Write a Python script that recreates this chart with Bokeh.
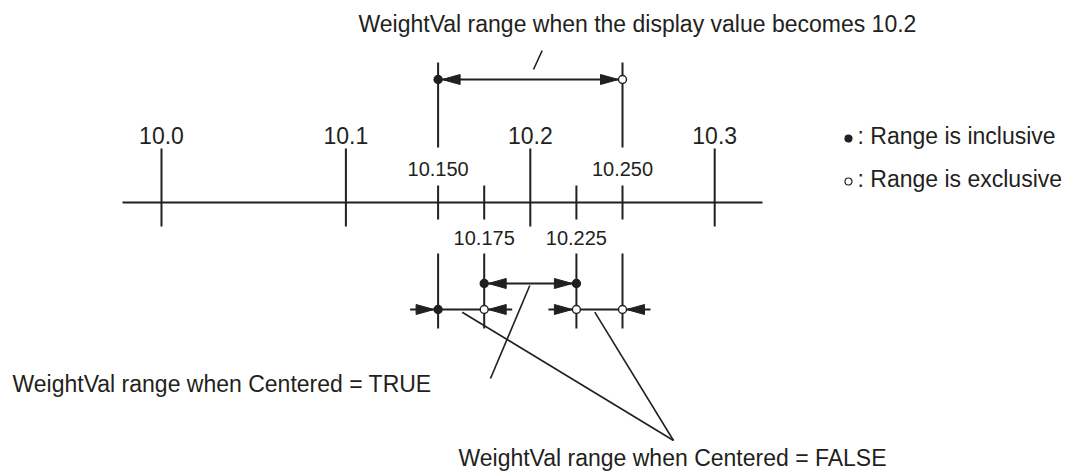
from bokeh.plotting import figure
from bokeh.models import Range1d
from bokeh.embed import file_html
from bokeh.resources import INLINE
from bokeh.core.properties import value

# ---------------- data ----------------
MAJOR_TICKS = [10.0, 10.1, 10.2, 10.3]
MAJOR_LABELS = ["10.0", "10.1", "10.2", "10.3"]
UPPER_MINOR = [10.15, 10.25]
UPPER_MINOR_LABELS = ["10.150", "10.250"]
LOWER_MINOR = [10.175, 10.225]
LOWER_MINOR_LABELS = ["10.175", "10.225"]

DISPLAY_RANGE = [10.15, 10.25]
DISPLAY_CLOSED = [True, False]
CENTERED_RANGE = [10.175, 10.225]
CENTERED_CLOSED = [True, True]
FALSE_STARTS = [10.15, 10.225]
FALSE_ENDS = [10.175, 10.25]
FALSE_START_CLOSED = [True, False]
FALSE_END_CLOSED = [False, False]

TITLE = "WeightVal range when the display value becomes 10.2"
TRUE_TEXT = "WeightVal range when Centered = TRUE"
FALSE_TEXT = "WeightVal range when Centered = FALSE"
LEGEND_TEXTS = [": Range is inclusive", ": Range is exclusive"]
LEGEND_CLOSED = [True, False]

# ---------------- layout ----------------
W, H = 1078, 473
PX = 1844.0                     # pixels per unit of WeightVal
X0 = 10.0 - 161 / PX            # value at left edge of canvas
X1 = X0 + W / PX
C = "#231f20"
FONT = value("Liberation Sans")
LW = 2


def vx(px):
    return X0 + px / PX


def ty(baseline, size):
    # compensate the renderer's baseline placement
    return baseline - 0.39 * size


p = figure(width=W, height=H, x_range=Range1d(X0, X1), y_range=Range1d(H, 0),
           output_backend="svg", toolbar_location=None, title=None,
           x_axis_location=None, y_axis_location=None, min_border=0)
p.outline_line_color = None
p.grid.visible = False
p.background_fill_color = "white"

# rows (pixel rows, top = 0)
Y_TITLE = 32
Y_TOP_ARROW = 79
Y_TOP_LINE = (62, 147)
Y_MAJOR_LAB = 143.5
Y_MAJOR_TICK = (148, 226)
Y_MINOR_UP_LAB = 176
Y_MINOR_TICK = (185, 219)
Y_AXIS = 202
Y_MINOR_DN_LAB = 245
Y_LOWER_LINE = (253, 328)
Y_CENTER = 283
Y_FALSE = 309

HEAD_L = 18
HEAD_W = 5
DOT = 8


def head(tip, y, direction):
    bx = tip - direction * HEAD_L / PX
    return [tip, bx, bx], [y, y - HEAD_W, y + HEAD_W]


heads_x, heads_y = [], []
dots_x, dots_y, dots_fill = [], [], []

# axis
p.segment(x0=[vx(122)], y0=[Y_AXIS], x1=[vx(762)], y1=[Y_AXIS], line_color=C, line_width=LW)
p.segment(x0=MAJOR_TICKS, x1=MAJOR_TICKS, y0=[Y_MAJOR_TICK[0]] * 4, y1=[Y_MAJOR_TICK[1]] * 4,
          line_color=C, line_width=LW)
minors = UPPER_MINOR + LOWER_MINOR
p.segment(x0=minors, x1=minors, y0=[Y_MINOR_TICK[0]] * 4, y1=[Y_MINOR_TICK[1]] * 4,
          line_color=C, line_width=LW)

# labels
p.text(x=MAJOR_TICKS, y=[ty(Y_MAJOR_LAB, 23)] * 4, text=MAJOR_LABELS, text_font=FONT,
       text_font_size="23px", text_align="center", text_baseline="alphabetic", text_color=C)
p.text(x=UPPER_MINOR, y=[ty(Y_MINOR_UP_LAB, 20)] * 2, text=UPPER_MINOR_LABELS, text_font=FONT,
       text_font_size="20px", text_align="center", text_baseline="alphabetic", text_color=C)
p.text(x=LOWER_MINOR, y=[ty(Y_MINOR_DN_LAB, 20)] * 2, text=LOWER_MINOR_LABELS, text_font=FONT,
       text_font_size="20px", text_align="center", text_baseline="alphabetic", text_color=C)

# top display range bracket
p.segment(x0=DISPLAY_RANGE, x1=DISPLAY_RANGE, y0=[Y_TOP_LINE[0]] * 2, y1=[Y_TOP_LINE[1]] * 2,
          line_color=C, line_width=LW)
p.segment(x0=[DISPLAY_RANGE[0]], x1=[DISPLAY_RANGE[1]], y0=[Y_TOP_ARROW], y1=[Y_TOP_ARROW],
          line_color=C, line_width=LW)
for v, d in ((DISPLAY_RANGE[0] + 4 / PX, -1), (DISPLAY_RANGE[1] - 4 / PX, 1)):
    hx, hy = head(v, Y_TOP_ARROW, d)
    heads_x.append(hx); heads_y.append(hy)
for v, c in zip(DISPLAY_RANGE, DISPLAY_CLOSED):
    dots_x.append(v); dots_y.append(Y_TOP_ARROW); dots_fill.append(C if c else "white")

# lower vertical lines
lowv = [DISPLAY_RANGE[0], CENTERED_RANGE[0], CENTERED_RANGE[1], DISPLAY_RANGE[1]]
p.segment(x0=lowv, x1=lowv, y0=[Y_LOWER_LINE[0]] * 4, y1=[Y_LOWER_LINE[1]] * 4,
          line_color=C, line_width=LW)

# centered range arrow
p.segment(x0=[CENTERED_RANGE[0]], x1=[CENTERED_RANGE[1]], y0=[Y_CENTER], y1=[Y_CENTER],
          line_color=C, line_width=LW)
for v, d in ((CENTERED_RANGE[0] + 4 / PX, -1), (CENTERED_RANGE[1] - 4 / PX, 1)):
    hx, hy = head(v, Y_CENTER, d)
    heads_x.append(hx); heads_y.append(hy)
for v, c in zip(CENTERED_RANGE, CENTERED_CLOSED):
    dots_x.append(v); dots_y.append(Y_CENTER); dots_fill.append(C if c else "white")

# centered = FALSE ranges (dimension style, arrows from outside)
for s, e, cs, ce in zip(FALSE_STARTS, FALSE_ENDS, FALSE_START_CLOSED, FALSE_END_CLOSED):
    p.segment(x0=[s - 28 / PX], x1=[e + 28 / PX], y0=[Y_FALSE], y1=[Y_FALSE],
              line_color=C, line_width=LW)
    for v, d in ((s - 4 / PX, 1), (e + 4 / PX, -1)):
        hx, hy = head(v, Y_FALSE, d)
        heads_x.append(hx); heads_y.append(hy)
    dots_x += [s, e]; dots_y += [Y_FALSE, Y_FALSE]
    dots_fill += [C if cs else "white", C if ce else "white"]

p.patches(xs=heads_x, ys=heads_y, fill_color=C, line_color=C, line_width=1)
p.scatter(x=dots_x, y=dots_y, size=DOT, marker="circle", fill_color=dots_fill,
          line_color=C, line_width=1.4)

# leader lines
p.segment(x0=[vx(533), vx(529.3), vx(461.7), vx(594.3)],
          y0=[69, 285, 311.7, 311.7],
          x1=[vx(541.7), vx(490), vx(673), vx(673)],
          y1=[50, 378, 440, 440], line_color=C, line_width=1.6)

# texts
p.text(x=[vx(358)], y=[ty(Y_TITLE, 23)], text=[TITLE], text_font=FONT, text_font_size="23px",
       text_align="left", text_baseline="alphabetic", text_color=C)
p.text(x=[vx(12)], y=[ty(392, 23)], text=[TRUE_TEXT], text_font=FONT, text_font_size="23px",
       text_align="left", text_baseline="alphabetic", text_color=C)
p.text(x=[vx(672)], y=[ty(466.5, 23)], text=[FALSE_TEXT], text_font=FONT, text_font_size="23px",
       text_align="center", text_baseline="alphabetic", text_color=C)

# legend
LEG_Y = [144, 187]
p.scatter(x=[vx(848)] * 2, y=[y - 6 for y in LEG_Y], size=7, marker="circle",
          fill_color=[C if c else "white" for c in LEGEND_CLOSED], line_color=C, line_width=1.2)
p.text(x=[vx(857)] * 2, y=[ty(y, 23) for y in LEG_Y], text=LEGEND_TEXTS, text_font=FONT,
       text_font_size="23px", text_align="left", text_baseline="alphabetic", text_color=C)

open("out.html", "w").write(file_html(p, INLINE))
